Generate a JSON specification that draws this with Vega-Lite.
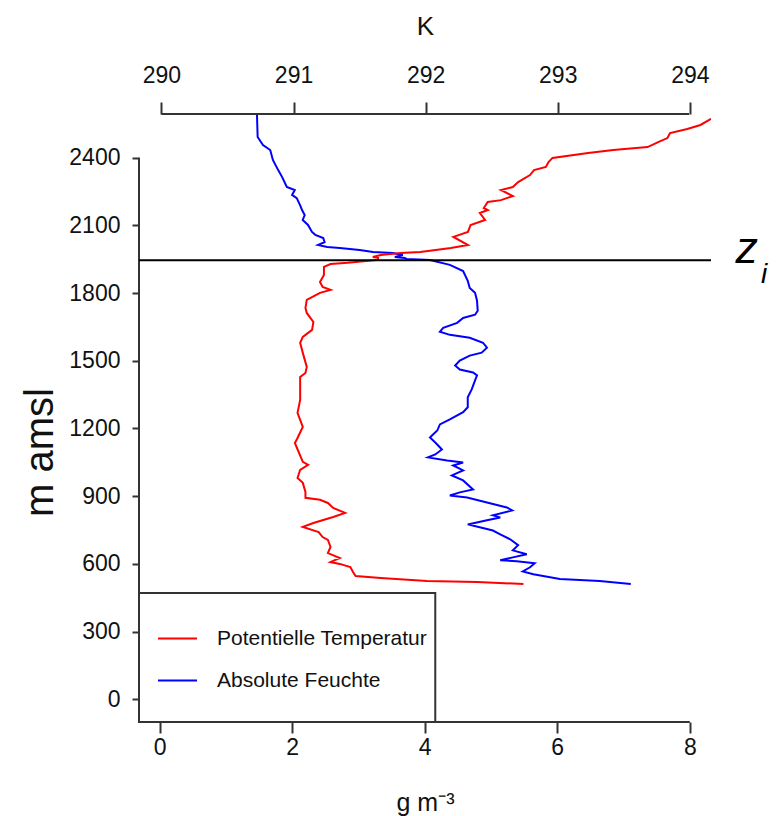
{
  "$schema": "https://vega.github.io/schema/vega-lite/v6.json",
  "width": 572,
  "height": 608,
  "autosize": {"type": "none"},
  "padding": {"left": 139, "top": 114, "right": 69, "bottom": 94},
  "background": "white",
  "config": {
    "view": {"stroke": null},
    "font": "Liberation Sans",
    "axis": {"grid": false, "domain": false, "tickColor": "#333", "tickWidth": 2, "labelColor": "#111", "titleColor": "#111", "labelFont": "Liberation Sans", "titleFont": "Liberation Sans", "labelFontSize": 23, "titleFontSize": 24, "titleFontWeight": "normal", "format": "d"}
  },
  "datasets": {
    "one": [{}],
    "blue": [
      {"h": 2590, "g": 1.47}, {"h": 2492, "g": 1.48}, {"h": 2456, "g": 1.56}, {"h": 2434, "g": 1.67}, {"h": 2390, "g": 1.71},
      {"h": 2345, "g": 1.79}, {"h": 2314, "g": 1.85}, {"h": 2270, "g": 1.92}, {"h": 2257, "g": 2.04}, {"h": 2235, "g": 2.0},
      {"h": 2221, "g": 2.07}, {"h": 2190, "g": 2.12}, {"h": 2168, "g": 2.15}, {"h": 2146, "g": 2.19}, {"h": 2124, "g": 2.16},
      {"h": 2102, "g": 2.24}, {"h": 2071, "g": 2.3}, {"h": 2058, "g": 2.35}, {"h": 2044, "g": 2.47}, {"h": 2026, "g": 2.49},
      {"h": 2013, "g": 2.39}, {"h": 2004, "g": 2.53}, {"h": 2000, "g": 2.72}, {"h": 1991, "g": 3.02}, {"h": 1982, "g": 3.22},
      {"h": 1978, "g": 3.52}, {"h": 1969, "g": 3.67}, {"h": 1960, "g": 3.55}, {"h": 1956, "g": 3.7}, {"h": 1951, "g": 3.73},
      {"h": 1947, "g": 4.08}, {"h": 1925, "g": 4.38}, {"h": 1898, "g": 4.58}, {"h": 1854, "g": 4.65}, {"h": 1823, "g": 4.68},
      {"h": 1801, "g": 4.76}, {"h": 1766, "g": 4.79}, {"h": 1722, "g": 4.8}, {"h": 1704, "g": 4.76}, {"h": 1690, "g": 4.58},
      {"h": 1668, "g": 4.49}, {"h": 1646, "g": 4.28}, {"h": 1629, "g": 4.23}, {"h": 1615, "g": 4.38}, {"h": 1602, "g": 4.68},
      {"h": 1580, "g": 4.88}, {"h": 1558, "g": 4.94}, {"h": 1536, "g": 4.86}, {"h": 1523, "g": 4.68}, {"h": 1501, "g": 4.53},
      {"h": 1479, "g": 4.46}, {"h": 1461, "g": 4.53}, {"h": 1448, "g": 4.73}, {"h": 1435, "g": 4.79}, {"h": 1413, "g": 4.76},
      {"h": 1373, "g": 4.71}, {"h": 1338, "g": 4.65}, {"h": 1294, "g": 4.65}, {"h": 1272, "g": 4.58}, {"h": 1240, "g": 4.38},
      {"h": 1218, "g": 4.23}, {"h": 1191, "g": 4.19}, {"h": 1169, "g": 4.11}, {"h": 1160, "g": 4.08}, {"h": 1138, "g": 4.16},
      {"h": 1107, "g": 4.26}, {"h": 1085, "g": 4.16}, {"h": 1072, "g": 4.05}, {"h": 1058, "g": 4.34}, {"h": 1049, "g": 4.58},
      {"h": 1036, "g": 4.43}, {"h": 1014, "g": 4.58}, {"h": 992, "g": 4.41}, {"h": 970, "g": 4.58}, {"h": 930, "g": 4.73},
      {"h": 917, "g": 4.53}, {"h": 903, "g": 4.38}, {"h": 894, "g": 4.64}, {"h": 872, "g": 4.94}, {"h": 850, "g": 5.24},
      {"h": 837, "g": 5.32}, {"h": 815, "g": 5.03}, {"h": 806, "g": 5.14}, {"h": 793, "g": 4.94}, {"h": 775, "g": 4.65},
      {"h": 762, "g": 4.83}, {"h": 748, "g": 5.03}, {"h": 731, "g": 5.14}, {"h": 709, "g": 5.29}, {"h": 683, "g": 5.41},
      {"h": 660, "g": 5.33}, {"h": 643, "g": 5.54}, {"h": 629, "g": 5.33}, {"h": 616, "g": 5.14}, {"h": 612, "g": 5.39},
      {"h": 603, "g": 5.66}, {"h": 585, "g": 5.59}, {"h": 567, "g": 5.48}, {"h": 554, "g": 5.64}, {"h": 533, "g": 6.04},
      {"h": 524, "g": 6.64}, {"h": 511, "g": 7.11}
    ],
    "red": [
      {"h": 2572, "K": 294.16}, {"h": 2545, "K": 294.08}, {"h": 2527, "K": 293.98}, {"h": 2509, "K": 293.85}, {"h": 2487, "K": 293.83},
      {"h": 2469, "K": 293.76}, {"h": 2447, "K": 293.68}, {"h": 2434, "K": 293.42}, {"h": 2421, "K": 293.23}, {"h": 2399, "K": 292.96},
      {"h": 2381, "K": 292.93}, {"h": 2359, "K": 292.91}, {"h": 2345, "K": 292.82}, {"h": 2323, "K": 292.79}, {"h": 2292, "K": 292.7},
      {"h": 2270, "K": 292.66}, {"h": 2257, "K": 292.57}, {"h": 2230, "K": 292.66}, {"h": 2212, "K": 292.57}, {"h": 2204, "K": 292.47},
      {"h": 2177, "K": 292.44}, {"h": 2168, "K": 292.47}, {"h": 2155, "K": 292.41}, {"h": 2124, "K": 292.45}, {"h": 2102, "K": 292.34},
      {"h": 2071, "K": 292.32}, {"h": 2049, "K": 292.21}, {"h": 2013, "K": 292.32}, {"h": 2000, "K": 292.19}, {"h": 1982, "K": 291.96},
      {"h": 1978, "K": 291.81}, {"h": 1969, "K": 291.66}, {"h": 1960, "K": 291.6}, {"h": 1956, "K": 291.64}, {"h": 1947, "K": 291.64},
      {"h": 1934, "K": 291.41}, {"h": 1929, "K": 291.28}, {"h": 1916, "K": 291.23}, {"h": 1880, "K": 291.23}, {"h": 1849, "K": 291.2},
      {"h": 1827, "K": 291.22}, {"h": 1814, "K": 291.28}, {"h": 1801, "K": 291.2}, {"h": 1770, "K": 291.1}, {"h": 1734, "K": 291.09},
      {"h": 1712, "K": 291.1}, {"h": 1672, "K": 291.15}, {"h": 1637, "K": 291.14}, {"h": 1606, "K": 291.07}, {"h": 1580, "K": 291.05},
      {"h": 1535, "K": 291.07}, {"h": 1473, "K": 291.1}, {"h": 1446, "K": 291.09}, {"h": 1428, "K": 291.05}, {"h": 1327, "K": 291.05},
      {"h": 1269, "K": 291.03}, {"h": 1207, "K": 291.07}, {"h": 1158, "K": 291.03}, {"h": 1136, "K": 291.01}, {"h": 1052, "K": 291.07},
      {"h": 1039, "K": 291.11}, {"h": 1017, "K": 291.05}, {"h": 981, "K": 291.03}, {"h": 959, "K": 291.07}, {"h": 919, "K": 291.09},
      {"h": 893, "K": 291.09}, {"h": 884, "K": 291.2}, {"h": 870, "K": 291.26}, {"h": 848, "K": 291.3}, {"h": 826, "K": 291.39},
      {"h": 808, "K": 291.3}, {"h": 781, "K": 291.15}, {"h": 764, "K": 291.07}, {"h": 741, "K": 291.19}, {"h": 719, "K": 291.22},
      {"h": 706, "K": 291.26}, {"h": 675, "K": 291.28}, {"h": 648, "K": 291.26}, {"h": 626, "K": 291.35}, {"h": 608, "K": 291.28},
      {"h": 600, "K": 291.35}, {"h": 586, "K": 291.43}, {"h": 564, "K": 291.45}, {"h": 546, "K": 291.47}, {"h": 537, "K": 291.66},
      {"h": 524, "K": 292.01}, {"h": 520, "K": 292.39}, {"h": 511, "K": 292.74}
    ]
  },
  "layer": [
    {
      "data": {"name": "one"},
      "mark": {"type": "rect", "fill": "white", "stroke": "#333", "strokeWidth": 2},
      "encoding": {
        "x": {"datum": -0.31, "type": "quantitative", "scale": {"domain": [-0.31, 8.32], "nice": false, "zero": false}, "axis": null},
        "x2": {"datum": 4.16},
        "y": {"datum": -100.6, "type": "quantitative", "scale": {"domain": [-100.6, 2593.6], "nice": false, "zero": false}, "title": "m amsl"},
        "y2": {"datum": 471}
      }
    },
    {
      "data": {"name": "blue"},
      "mark": {"type": "line", "strokeWidth": 2, "clip": true},
      "encoding": {
        "x": {"field": "g", "type": "quantitative", "scale": {"domain": [-0.31, 8.32], "nice": false, "zero": false},
          "axis": {"orient": "bottom", "values": [0, 2, 4, 6, 8], "tickSize": 11, "labelPadding": 3, "title": "g m⁻³", "titleY": 88, "titleFontSize": 25, "titleBaseline": "alphabetic"}},
        "y": {"field": "h", "type": "quantitative", "scale": {"domain": [-100.6, 2593.6], "nice": false, "zero": false},
          "axis": {"values": [0, 300, 600, 900, 1200, 1500, 1800, 2100, 2400], "tickSize": 7, "labelPadding": 12, "title": "m amsl", "titleFont": "Liberation Sans", "titleFontSize": 40, "titleAngle": 270, "titleX": -87, "titleY": 338, "titleAlign": "center", "titleBaseline": "alphabetic"}},
        "order": {"field": "h", "type": "quantitative"},
        "color": {"datum": "Absolute Feuchte", "type": "nominal",
          "scale": {"domain": ["Potentielle Temperatur", "Absolute Feuchte"], "range": ["#ff0000", "#0000ff"]},
          "legend": {"orient": "none", "legendX": 18, "legendY": 504, "title": null, "symbolType": "stroke", "symbolSize": 1521, "symbolStrokeWidth": 2, "labelFont": "Liberation Sans", "labelFontSize": 21, "labelColor": "#111", "labelOffset": 19, "labelLimit": 400, "rowPadding": 11, "padding": 0}}
      }
    },
    {
      "data": {"name": "red"},
      "mark": {"type": "line", "strokeWidth": 2, "clip": true},
      "encoding": {
        "x": {"field": "K", "type": "quantitative", "scale": {"domain": [289.83, 294.16], "nice": false, "zero": false},
          "axis": {"orient": "top", "values": [290, 291, 292, 293, 294], "tickSize": 12, "labelPadding": 15, "title": "K", "titleY": -80, "titleFontSize": 26, "titleBaseline": "alphabetic"}},
        "y": {"field": "h", "type": "quantitative", "scale": {"domain": [-100.6, 2593.6], "nice": false, "zero": false}, "title": "m amsl"},
        "order": {"field": "h", "type": "quantitative"},
        "color": {"datum": "Potentielle Temperatur", "type": "nominal"}
      }
    },
    {
      "data": {"name": "one"},
      "mark": {"type": "rule", "color": "#333", "strokeWidth": 2},
      "encoding": {
        "x": {"datum": -0.31, "type": "quantitative", "scale": {"domain": [-0.31, 8.32], "nice": false, "zero": false}, "axis": null},
        "y": {"datum": 0, "type": "quantitative", "scale": {"domain": [-100.6, 2593.6], "nice": false, "zero": false}, "title": "m amsl"},
        "y2": {"datum": 2400}
      }
    },
    {
      "data": {"name": "one"},
      "mark": {"type": "rule", "color": "#333", "strokeWidth": 2},
      "encoding": {
        "x": {"datum": 0, "type": "quantitative", "scale": {"domain": [-0.31, 8.32], "nice": false, "zero": false}, "axis": null},
        "x2": {"datum": 8},
        "y": {"datum": -100.6, "type": "quantitative", "scale": {"domain": [-100.6, 2593.6], "nice": false, "zero": false}, "title": "m amsl"}
      }
    },
    {
      "data": {"name": "one"},
      "mark": {"type": "rule", "color": "#333", "strokeWidth": 2},
      "encoding": {
        "x": {"datum": 0.03, "type": "quantitative", "scale": {"domain": [-0.31, 8.32], "nice": false, "zero": false}, "axis": null},
        "x2": {"datum": 7.99},
        "y": {"datum": 2593.6, "type": "quantitative", "scale": {"domain": [-100.6, 2593.6], "nice": false, "zero": false}, "title": "m amsl"}
      }
    },
    {
      "data": {"name": "one"},
      "mark": {"type": "rule", "color": "#000", "strokeWidth": 2},
      "encoding": {
        "y": {"datum": 1945, "type": "quantitative", "scale": {"domain": [-100.6, 2593.6], "nice": false, "zero": false}, "title": "m amsl"}
      }
    },
    {
      "data": {"name": "one"},
      "mark": {"type": "text", "text": "z", "font": "Liberation Sans", "fontStyle": "italic", "fontSize": 45, "align": "center", "baseline": "alphabetic", "color": "#000", "clip": false},
      "encoding": {
        "x": {"datum": 8.86, "type": "quantitative", "scale": {"domain": [-0.31, 8.32], "nice": false, "zero": false}, "axis": null},
        "y": {"datum": 1935, "type": "quantitative", "scale": {"domain": [-100.6, 2593.6], "nice": false, "zero": false}, "title": "m amsl"}
      }
    },
    {
      "data": {"name": "one"},
      "mark": {"type": "text", "text": "i", "font": "Liberation Sans", "fontStyle": "italic", "fontSize": 28, "align": "center", "baseline": "alphabetic", "color": "#000", "clip": false},
      "encoding": {
        "x": {"datum": 9.12, "type": "quantitative", "scale": {"domain": [-0.31, 8.32], "nice": false, "zero": false}, "axis": null},
        "y": {"datum": 1845, "type": "quantitative", "scale": {"domain": [-100.6, 2593.6], "nice": false, "zero": false}, "title": "m amsl"}
      }
    }
  ],
  "resolve": {"scale": {"x": "independent"}}
}
